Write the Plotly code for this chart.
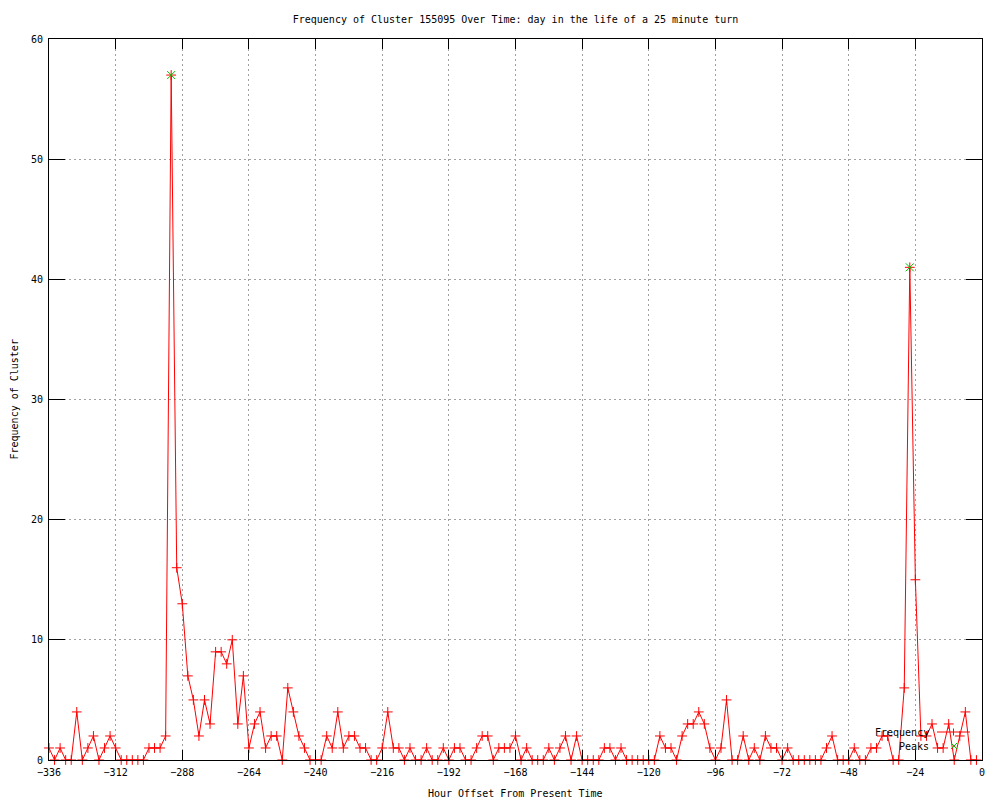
import plotly.graph_objects as go

# ---------------- data ----------------
hours = list(range(-336, 0, 2))  # one sample every 2 hours
frequency = [
    1, 0, 1, 0, 0, 4, 0, 1, 2, 0,
    1, 2, 1, 0, 0, 0, 0, 0, 1, 1,
    1, 2, 57, 16, 13, 7, 5, 2, 5, 3,
    9, 9, 8, 10, 3, 7, 1, 3, 4, 1,
    2, 2, 0, 6, 4, 2, 1, 0, 0, 0,
    2, 1, 4, 1, 2, 2, 1, 1, 0, 0,
    1, 4, 1, 1, 0, 1, 0, 0, 1, 0,
    0, 1, 0, 1, 1, 0, 0, 1, 2, 2,
    0, 1, 1, 1, 2, 0, 1, 0, 0, 0,
    1, 0, 1, 2, 0, 2, 0, 0, 0, 0,
    1, 1, 0, 1, 0, 0, 0, 0, 0, 0,
    2, 1, 1, 0, 2, 3, 3, 4, 3, 1,
    0, 1, 5, 0, 0, 2, 0, 1, 0, 2,
    1, 1, 0, 1, 0, 0, 0, 0, 0, 0,
    1, 2, 0, 0, 0, 1, 0, 0, 1, 1,
    2, 2, 0, 0, 6, 41, 15, 2, 2, 3,
    1, 1, 3, 0, 2, 4, 0, 0,
]
peak_hours = [-292, -26]
peak_values = [57, 41]

x_ticks = list(range(-336, 1, 24))
y_ticks = list(range(0, 61, 10))

title_text = "Frequency of Cluster 155095 Over Time: day in the life of a 25 minute turn"
x_title = "Hour Offset From Present Time"
y_title = "Frequency of Cluster"
legend_names = ["Frequency", "Peaks"]

# ---------------- style ----------------
FONT = "DejaVu Sans Mono"
RED = "#ff0000"
GREEN = "#00c000"
PAGE_OFF = 8            # default body margin of the html page
W, H = 1000 - PAGE_OFF, 800 - PAGE_OFF
ML, MR, MT, MB = 41, 18, 31, 40
PW, PH = W - ML - MR, H - MT - MB


def pxx(px):  # page pixel x -> paper fraction
    return (px - PAGE_OFF - ML) / PW


def pyy(py):  # page pixel y -> paper fraction
    return (H - MB - (py - PAGE_OFF)) / PH


fig = go.Figure()
fig.add_trace(go.Scatter(
    x=hours, y=frequency, mode="lines+markers", name=legend_names[0],
    line=dict(color=RED, width=1),
    marker=dict(symbol="cross-thin", size=7, color=RED, line=dict(color=RED, width=1)),
    cliponaxis=False, showlegend=False,
))
fig.add_trace(go.Scatter(
    x=peak_hours, y=peak_values, mode="markers", name=legend_names[1],
    marker=dict(symbol="x-thin", size=8, color=GREEN, line=dict(color=GREEN, width=1)),
    cliponaxis=False, showlegend=False,
))

axis_common = dict(
    showline=True, linecolor="black", linewidth=1, mirror="ticks",
    ticks="inside", tickcolor="black", tickwidth=1,
    showgrid=True, gridcolor="#a0a0a0", gridwidth=1, griddash="2px,3px",
    zeroline=False, tickfont=dict(family=FONT, size=10, color="black"),
    layer="above traces", automargin=False,
)

fig.update_layout(
    width=W, height=H,
    margin=dict(l=ML, r=MR, t=MT, b=MB, autoexpand=False),
    paper_bgcolor="white", plot_bgcolor="white",
    font=dict(family=FONT, size=10, color="black"),
    title=dict(text=title_text, x=(ML + PW / 2) / W, xanchor="center",
               y=1 - (19 - PAGE_OFF) / H, yanchor="middle", font=dict(family=FONT, size=10)),
    xaxis=dict(range=[-336, 0], tickvals=x_ticks, ticklen=10,
               ticklabelstandoff=3, **axis_common),
    yaxis=dict(range=[0, 60], tickvals=y_ticks, ticklen=16,
               ticklabelstandoff=3, **axis_common),
    showlegend=False,
)

# axis titles
fig.add_annotation(text=x_title, x=0.5, y=pyy(793), xref="paper", yref="paper",
                   xanchor="center", yanchor="middle", showarrow=False,
                   font=dict(family=FONT, size=10, color="black"))
fig.add_annotation(text=y_title, x=pxx(14), y=0.5, xref="paper", yref="paper",
                   xanchor="center", yanchor="middle", showarrow=False, textangle=-90,
                   font=dict(family=FONT, size=10, color="black"))

# gnuplot-style key: text right-aligned, sample to the right
fig.add_annotation(text=legend_names[0], x=pxx(931), y=pyy(732), xref="paper", yref="paper",
                   xanchor="right", yanchor="middle", showarrow=False,
                   font=dict(family=FONT, size=10, color="black"))
fig.add_annotation(text=legend_names[1], x=pxx(931), y=pyy(746), xref="paper", yref="paper",
                   xanchor="right", yanchor="middle", showarrow=False,
                   font=dict(family=FONT, size=10, color="black"))
# Frequency sample line + cross
fig.add_shape(type="line", xref="paper", yref="paper",
              x0=pxx(937), x1=pxx(970), y0=pyy(732), y1=pyy(732),
              line=dict(color=RED, width=1))
fig.add_shape(type="line", xref="paper", yref="paper",
              x0=pxx(953.5), x1=pxx(953.5), y0=pyy(728.5), y1=pyy(735.5),
              line=dict(color=RED, width=1))
# Peaks sample x
fig.add_shape(type="line", xref="paper", yref="paper",
              x0=pxx(951), x1=pxx(957), y0=pyy(743), y1=pyy(749),
              line=dict(color=GREEN, width=1))
fig.add_shape(type="line", xref="paper", yref="paper",
              x0=pxx(951), x1=pxx(957), y0=pyy(749), y1=pyy(743),
              line=dict(color=GREEN, width=1))

fig.write_html("out.html")
